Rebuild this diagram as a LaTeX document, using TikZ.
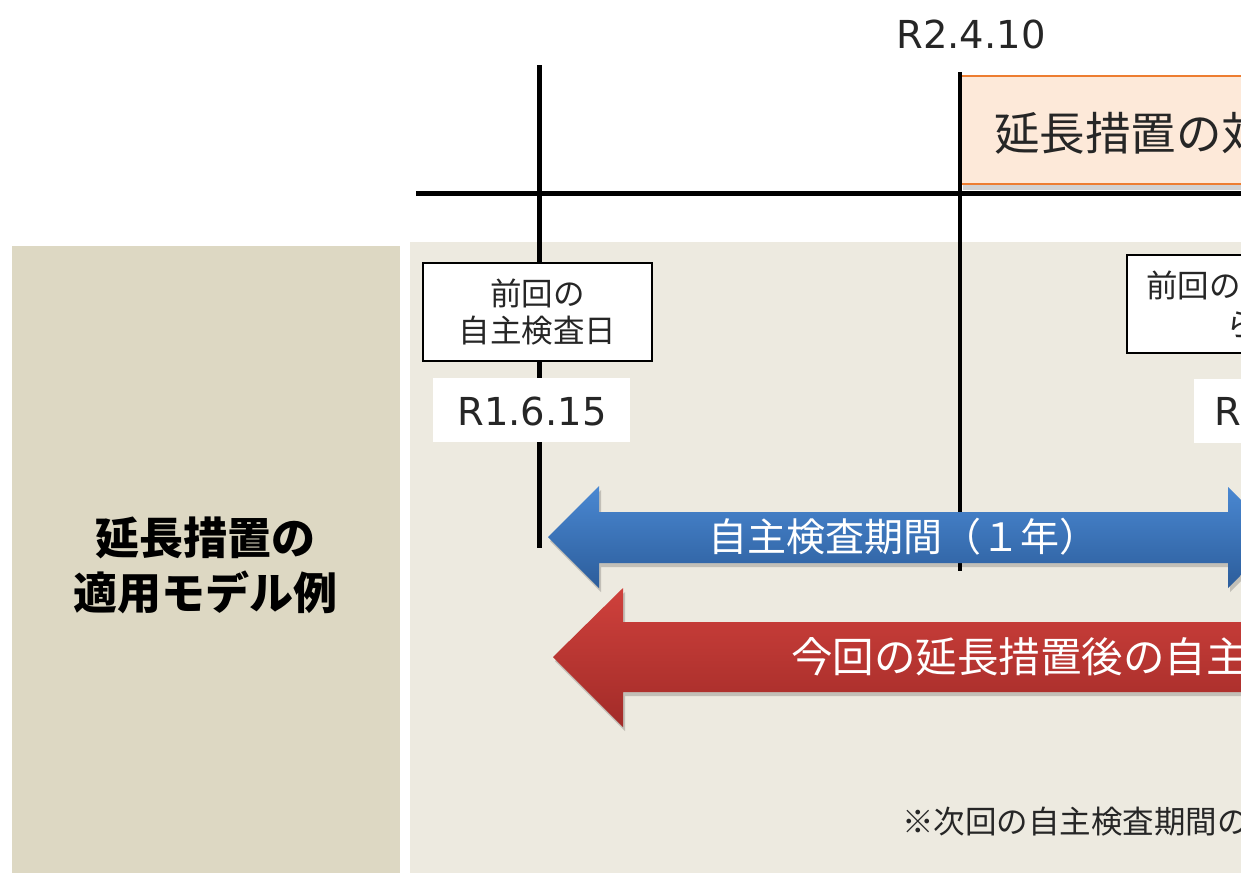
\documentclass[tikz,border=0pt]{standalone}
\usepackage{fontspec}
\newfontfamily\jp{Noto Sans CJK JP}
\newfontfamily\lat{DejaVu Sans}
\definecolor{leftpanel}{HTML}{DDD8C3}
\definecolor{rightpanel}{HTML}{EDEAE0}
\definecolor{orangefill}{HTML}{FDE9D9}
\definecolor{orangeline}{HTML}{ED7D31}
\definecolor{bluetop}{HTML}{4A88D2}
\definecolor{bluebot}{HTML}{2C5D9B}
\definecolor{redtop}{HTML}{CF413C}
\definecolor{redbot}{HTML}{A22B28}
\definecolor{textgrey}{HTML}{262626}
\begin{document}
\begin{tikzpicture}[x=1pt,y=-1pt,
  every node/.style={inner sep=0pt,outer sep=0pt},
  tline/.style={line width=5pt,black},
  jplabel/.style={font=\jp\fontsize{31.5}{38}\selectfont,text=textgrey},
  datelabel/.style={font=\lat\fontsize{38.5}{42}\selectfont,text=textgrey},
  datebox/.style={fill=white,minimum width=197,minimum height=64},
  infobox/.style={draw=black,line width=1.5pt,fill=white,minimum height=98},
  arrowtext/.style={text=white},
  shadowfill/.style={fill=black,opacity=0.18}]
\useasboundingbox (0,0) rectangle (1241,873);
\clip (0,0) rectangle (1241,873);
\fill[white] (0,0) rectangle (1241,873);
% panels
\fill[leftpanel] (12,246) rectangle (400,873);
\fill[rightpanel] (410,242) rectangle (1241,873);
\node[font=\jp\bfseries\fontsize{44}{55}\selectfont,align=center,text=black] (title) at (205,565) {延長措置の\\適用モデル例};
% date at top
\node[datelabel] (d2) at (971,34) {R2.4.10};
% orange box
\fill[shadowfill] (963,80) rectangle (1300,190);
\node[draw=orangeline,line width=2pt,fill=orangefill,minimum width=440,minimum height=108,anchor=north west] (orbox) at (961,76) {};
\node[anchor=west,font=\jp\fontsize{45.5}{50}\selectfont,text=textgrey] (ortext) at (994,133) {延長措置の対};
% timeline lines
\coordinate (hl) at (416,193);
\coordinate (hr) at (1260,193);
\draw[tline] (hl) -- (hr);
\coordinate (v1t) at (539,65);
\coordinate (v1b) at (539,548);
\draw[tline] (v1t) -- (v1b);
\coordinate (v2t) at (960,72);
\coordinate (v2b) at (960,571);
\draw[line width=4.5pt,black] (v2t) -- (v2b);
% left info box and date
\node[infobox,minimum width=229,align=center,font=\jp\fontsize{31.5}{37}\selectfont,text=textgrey] (prevbox) at (537.5,312) {前回の\\自主検査日};
\node[datebox] (d1box) at (531.5,410) {};
\node[datelabel] (d1) at (532,411) {R1.6.15};
% right info box and date
\node[infobox,minimum width=303,anchor=north west] (nextbox) at (1127,255) {};
\node[jplabel,anchor=west] (nexttext1) at (1146,285) {前回の自};
\node[jplabel,anchor=west] (nexttext2) at (1226,325) {ら};
\node[datebox,anchor=north west] (d3box) at (1194,379) {};
\node[datelabel,anchor=west] (d3) at (1214,411) {R};
% blue double arrow
\fill[shadowfill] (550,541) -- (601,490) -- (601,516) -- (1230,516) -- (1230,491) -- (1281,541) -- (1230,592) -- (1230,567) -- (601,567) -- (601,592) -- cycle;
\shade[top color=bluetop,bottom color=bluebot] (548,537) -- (599,486) -- (599,512) -- (1228,512) -- (1228,487) -- (1279,537) -- (1228,588) -- (1228,563) -- (599,563) -- (599,588) -- cycle;
\node[arrowtext,font=\jp\fontsize{39}{40}\selectfont] (bluetext) at (903,537) {自主検査期間（１年）};
% red arrow
\fill[shadowfill] (555,661) -- (625,592) -- (625,626) -- (1300,626) -- (1300,696) -- (625,696) -- (625,731) -- cycle;
\shade[top color=redtop,bottom color=redbot] (553,657) -- (623,588) -- (623,622) -- (1300,622) -- (1300,692) -- (623,692) -- (623,727) -- cycle;
\node[arrowtext,anchor=west,font=\jp\fontsize{41.5}{42}\selectfont] (redtext) at (791,657) {今回の延長措置後の自主};
% footnote
\node[jplabel,anchor=west] (note) at (902,822) {※次回の自主検査期間の};
\end{tikzpicture}
\end{document}
